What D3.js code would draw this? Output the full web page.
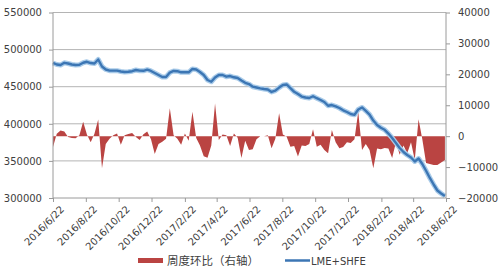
<!DOCTYPE html>
<html lang="zh">
<head>
  <meta charset="UTF-8">
  <title>LME+SHFE 库存与周度环比</title>
  <script src="https://d3js.org/d3.v7.min.js"></script>
  <style>
    body { margin: 0; background: #fff; }
    text {
      fill: #404040;
      font-size: 10px;
      font-family: 'DejaVu Sans', sans-serif;
    }
    .legend-cn {
      font-family: 'Noto Sans CJK SC', sans-serif;
      font-size: 11.5px;
    }
  </style>
</head>
<body>
  <svg width="500" height="272"></svg>

  <script>
    const svg = d3.select("svg");
    const parse = d3.timeParse("%Y/%m/%d");

    // weekly observations, first week and count
    const firstWeek = "2016/6/22";

    // LME+SHFE stocks (left axis), one value per week
    const stockValues = [
      482000, 479900, 479200, 482200, 481300, 479900, 479200, 479600, 482300, 483600,
      481900, 481300, 486700, 477200, 473200, 471600, 471600, 471600, 470500, 469800,
      470100, 470900, 472500, 471600, 471400, 472900, 471200, 468500, 465800, 463100,
      463100, 469100, 471200, 470900, 469400, 469400, 469400, 473900, 473200, 469800,
      465800, 459000, 456700, 462400, 465800, 465800, 463500, 464400, 462700, 461700,
      458400, 455300, 453600, 450000, 448900, 447800, 446900, 446200, 442900, 444700,
      448800, 452300, 453000, 448200, 443100, 440200, 436700, 435400, 434800, 437100,
      434500, 432100, 429400, 424300, 425300, 423600, 421300, 418200, 415900, 413200,
      412100, 419300, 422000, 417500, 412500, 404400, 398400, 394600, 391900, 386900,
      380900, 374100, 367400, 362000, 358000, 354600, 349200, 353200, 345800, 336700,
      327000, 318200, 310100, 306100, 302700
    ];

    // week-on-week change (right axis)
    const weeklyChange = [
      -3500, 800, 1800, 1500, -300, -600, -700, 300, 4700, 500,
      -2000, 800, 5400, -10400, -2500, -800, 300, 900, -2800, 300,
      700, 1000, -300, -1200, 600, 1500, -1000, -5800, -2500, -1800,
      -800, 9000, 300, -800, -2800, 900, -1500, 7900, -600, -3000,
      -6500, -7000, -3000, 10600, -1200, 500, 300, -3200, 900, -500,
      -7100, -1500, -4500, -4200, -1000, 0, 0, 300, -3900, -800,
      7400, 500, -200, -3400, -3200, -6600, -3000, -3200, -2500, 2200,
      -3400, -2800, -4500, -5500, 2000, -2000, -3900, -3500, -2000, -2200,
      -1000, 7900, -4500, -2500, -4500, -10400, -4000, -4200, -3800, -4000,
      -7100, -2000, -6000, -3000, -5500, -2000, -7700, 5500, -1000, -8700,
      -9000, -9300, -9300, -8500, -7700
    ];

    const xTickLabels = [
      "2016/6/22", "2016/8/22", "2016/10/22", "2016/12/22", "2017/2/22", "2017/4/22",
      "2017/6/22", "2017/8/22", "2017/10/22", "2017/12/22", "2018/2/22", "2018/4/22", "2018/6/22"
    ];
    const leftTicks = [300000, 350000, 400000, 450000, 500000, 550000];
    const rightTicks = [-20000, -10000, 0, 10000, 20000, 30000, 40000];

    const seriesNames = ["周度环比（右轴）", "LME+SHFE"];

    // build table
    const start = parse(firstWeek);
    const data = stockValues.map((v, i) => ({
      date: d3.timeDay.offset(start, 7 * i),
      stock: v,
      change: weeklyChange[i]
    }));

    const plotLeft = 53, plotRight = 446, plotTop = 12.5, plotBottom = 198;

    const x = d3.scaleTime()
      .domain([parse(xTickLabels[0]), parse(xTickLabels[xTickLabels.length - 1])])
      .range([plotLeft, plotRight]);
    const yL = d3.scaleLinear().domain([300000, 550000]).range([plotBottom, plotTop]);
    const yR = d3.scaleLinear().domain([-20000, 40000]).range([plotBottom, plotTop]);

    // gridlines
    svg.append("g")
      .selectAll("line")
      .data(leftTicks.slice(1))
      .join("line")
      .attr("x1", plotLeft).attr("x2", plotRight)
      .attr("y1", d => yL(d)).attr("y2", d => yL(d))
      .attr("stroke", "#b4b4b4")
      .attr("stroke-width", 1);

    // area for weekly change
    const area = d3.area()
      .x(d => x(d.date))
      .y0(yR(0))
      .y1(d => yR(d.change));
    svg.append("path")
      .datum(data)
      .attr("d", area)
      .attr("fill", "#ba4442");

    // stock line with a soft glow
    const line = d3.line()
      .x(d => x(d.date))
      .y(d => yL(d.stock));
    svg.append("path")
      .datum(data)
      .attr("d", line)
      .attr("fill", "none")
      .attr("stroke", "#a9cbe9")
      .attr("stroke-width", 5)
      .attr("stroke-linejoin", "round");
    svg.append("path")
      .datum(data)
      .attr("d", line)
      .attr("fill", "none")
      .attr("stroke", "#3c76b4")
      .attr("stroke-width", 2.4)
      .attr("stroke-linejoin", "round");

    // axes
    const gL = svg.append("g")
      .attr("transform", `translate(${plotLeft},0)`)
      .call(d3.axisLeft(yL).tickValues(leftTicks).tickSize(4).tickPadding(7).tickFormat(d3.format("d")));
    const gR = svg.append("g")
      .attr("transform", `translate(${plotRight},0)`)
      .call(d3.axisRight(yR).tickValues(rightTicks).tickSize(4).tickPadding(8).tickFormat(d3.format("d")));
    const gB = svg.append("g")
      .attr("transform", `translate(0,${plotBottom})`)
      .call(d3.axisBottom(x).tickValues(xTickLabels.map(parse)).tickSize(4)
        .tickFormat(d3.timeFormat("%Y/%-m/%-d")));

    gB.selectAll("text")
      .style("text-anchor", "end")
      .attr("dx", "-0.05em")
      .attr("dy", "0.95em")
      .attr("transform", "rotate(-45)");

    [gL, gR, gB].forEach(g => {
      g.selectAll(".domain").attr("stroke", "#9a9a9a");
      g.selectAll(".tick line").attr("stroke", "#9a9a9a");
      g.selectAll("text").style("fill", "#404040");
    });
    gL.select(".domain").attr("d", `M0,${plotTop}V${plotBottom}`);
    gR.select(".domain").attr("d", `M0,${plotTop}V${plotBottom}`);
    gB.select(".domain").attr("d", `M${plotLeft},0H${plotRight}`);

    // legend
    const lg = svg.append("g");
    lg.append("rect")
      .attr("x", 138).attr("y", 258)
      .attr("width", 25).attr("height", 5)
      .attr("fill", "#ba4442");
    lg.append("text")
      .attr("class", "legend-cn")
      .attr("x", 167).attr("y", 261)
      .attr("dy", "0.35em")
      .text(seriesNames[0]);
    lg.append("line")
      .attr("x1", 285).attr("x2", 310)
      .attr("y1", 260.5).attr("y2", 260.5)
      .attr("stroke", "#3c76b4")
      .attr("stroke-width", 2.5);
    lg.append("text")
      .attr("x", 311).attr("y", 261)
      .attr("dy", "0.35em")
      .text(seriesNames[1]);
  </script>
</body>
</html>
